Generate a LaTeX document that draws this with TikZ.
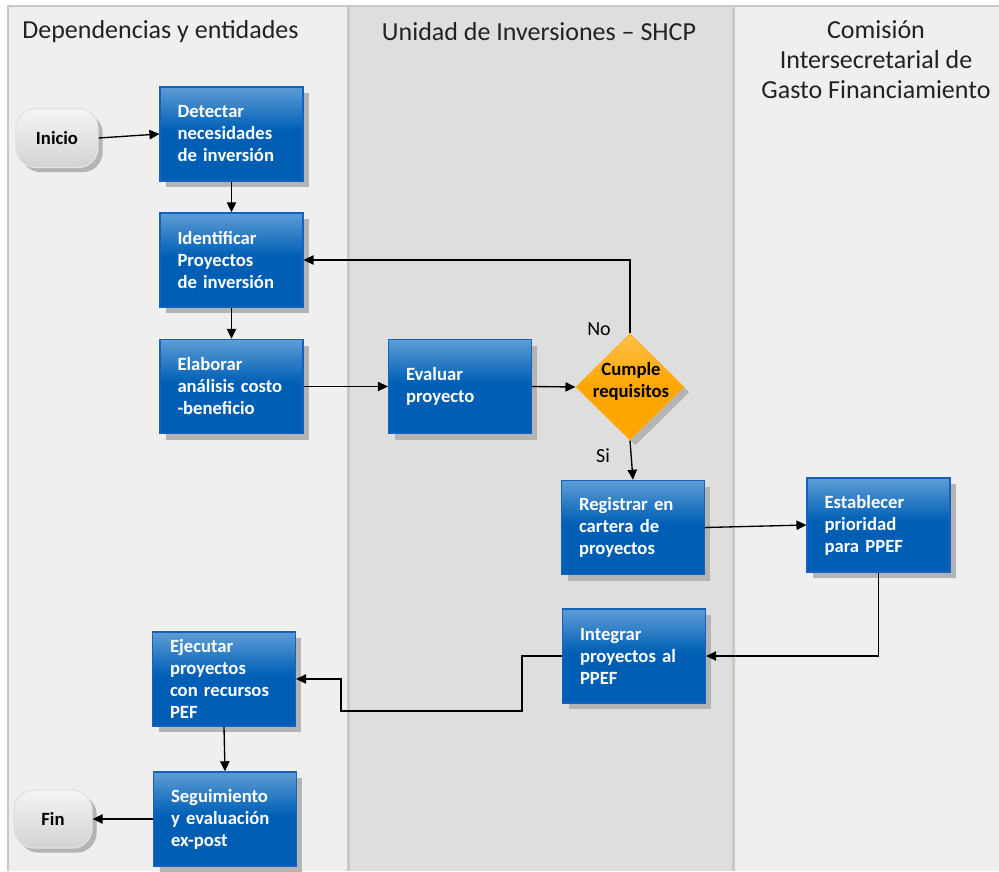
\documentclass[tikz,border=0pt]{standalone}
\usepackage{fontspec}
\setmainfont{Carlito}
\usetikzlibrary{arrows.meta,shapes.geometric,shadows}
\definecolor{laneA}{HTML}{EFEFEF}
\definecolor{laneB}{HTML}{DEDEDE}
\definecolor{laneline}{HTML}{C8C8C8}
\definecolor{bdark}{HTML}{005FB5}
\definecolor{blight}{HTML}{5E9DD5}
\definecolor{bborder}{HTML}{1462BE}
\definecolor{odark}{HTML}{FFA500}
\definecolor{olight}{HTML}{FFC04A}
\definecolor{oborder}{HTML}{FFB020}
\definecolor{sgray}{HTML}{B4B4B4}
\definecolor{tlight}{HTML}{F5F5F5}
\definecolor{tdark}{HTML}{D2D2D2}
\definecolor{tborder}{HTML}{E2E2E2}
\definecolor{titlecol}{HTML}{222222}
\pgfdeclareverticalshading{procshade}{100bp}{color(0bp)=(bdark); color(52bp)=(bdark); color(75bp)=(blight); color(100bp)=(blight)}
\pgfdeclareverticalshading{decshade}{100bp}{color(0bp)=(odark); color(50bp)=(odark); color(75bp)=(olight); color(100bp)=(olight)}
\pgfdeclareverticalshading{termshade}{100bp}{color(0bp)=(tdark); color(25bp)=(tdark); color(75bp)=(tlight); color(100bp)=(tlight)}
\tikzset{
  lanetitle/.style={font=\fontsize{19.5}{22.5}\selectfont, text=titlecol, inner sep=0pt},
  procbox/.style={rectangle, draw=bborder, line width=1.1pt, shading=procshade,
    text=white, font=\fontsize{14}{16.5}\selectfont\bfseries, align=left,
    text width=81pt, inner xsep=13pt, inner ysep=0pt,
    minimum width=106.5pt, minimum height=70.5pt,
    drop shadow={shadow xshift=4.5pt, shadow yshift=-4.5pt, fill=sgray, opacity=1}},
  decbox/.style={diamond, shape aspect=1, draw=oborder, line width=0.8pt, shading=decshade,
    inner sep=0pt, minimum width=81pt, minimum height=79.5pt,
    drop shadow={shadow xshift=4pt, shadow yshift=-4pt, fill=sgray, opacity=1}},
  dectext/.style={font=\fontsize{14}{16.5}\selectfont\bfseries, align=center, text=black, inner sep=0pt},
  termbox/.style={rectangle, rounded corners=15pt, draw=tborder, line width=1pt, shading=termshade,
    font=\fontsize{14}{16.5}\selectfont\bfseries, text=black,
    drop shadow={shadow xshift=3.5pt, shadow yshift=-3.5pt, fill=sgray, opacity=1}},
  arr/.style={-{Triangle[length=7.5pt,width=7pt]}, line width=1pt, black},
  lbl/.style={font=\fontsize{15}{18}\selectfont, text=black, inner sep=0pt}
}
\begin{document}
\begin{tikzpicture}[x=0.75pt,y=-0.75pt]
\useasboundingbox (0,0) rectangle (999,871);
\fill[white] (0,0) rectangle (999,871);
\fill[laneA] (8,6) rectangle (348,871);
\fill[laneB] (348,6) rectangle (733,871);
\fill[laneA] (733,6) rectangle (999,871);
\draw[laneline, line width=1.5pt] (8,871) -- (8,6) -- (999,6);
\draw[laneline, line width=2.25pt] (348,6) -- (348,871) (733,6) -- (733,871);

\node[lanetitle] (t1) at (160.5,32) {Dependencias y entidades};
\node[lanetitle] (t2) at (539,32) {Unidad de Inversiones – SHCP};
\node[lanetitle, align=center] (t3) at (876,59.5) {Comisión\\Intersecretarial de\\Gasto Financiamiento};

\node[termbox, minimum width=61.5pt, minimum height=44.25pt] (inicio) at (57,138) {Inicio};
\node[termbox, minimum width=58.5pt, minimum height=43.5pt] (fin) at (53,819) {Fin};

\node[procbox] (detectar) at (231.5,134) {Detectar\\necesidades\\de inversión};
\node[procbox] (identificar) at (231.5,260) {Identificar\\Proyectos\\de inversión};
\node[procbox] (elaborar) at (231.5,386.5) {Elaborar\\análisis costo\\-beneficio};
\node[procbox, minimum width=105pt] (evaluar) at (460,386.5) {Evaluar\\proyecto};
\node[decbox] (cumple) at (630,387) {};
\node[dectext] (cumpletxt) at (631,381) {Cumple\\requisitos};
\node[procbox] (registrar) at (633,527.5) {Registrar en\\cartera de\\proyectos};
\node[procbox] (establecer) at (878.5,525) {Establecer\\prioridad\\para PPEF};
\node[procbox] (integrar) at (634,656) {Integrar\\proyectos al\\PPEF};
\node[procbox] (ejecutar) at (224,679) {Ejecutar\\proyectos\\con recursos\\PEF};
\node[procbox] (seguimiento) at (225,819) {Seguimiento\\y evaluación\\ex-post};

\coordinate (c1) at (522,711);
\coordinate (c2) at (341,711);

\draw[arr] (inicio.east) -- (detectar.west);
\draw[arr] (detectar.south) -- (identificar.north);
\draw[arr] (identificar.south) -- (elaborar.north);
\draw[arr] (elaborar.east) -- (evaluar.west);
\draw[arr] (evaluar.east) -- (cumple.west);
\draw[arr] (cumple.north) |- (identificar.east);
\draw[arr] (cumple.south) -- (registrar.north);
\draw[arr] (registrar.east) -- (establecer.west);
\draw[arr] (establecer.south) |- (integrar.east);
\draw[arr] (integrar.west) -| (c1) -- (c2) |- (ejecutar.east);
\draw[arr] (ejecutar.south) -- (seguimiento.north);
\draw[arr] (seguimiento.west) -- (fin.east);

\node[lbl] (nolbl) at (599,329) {No};
\node[lbl] (silbl) at (603,456) {Si};
\end{tikzpicture}
\end{document}
